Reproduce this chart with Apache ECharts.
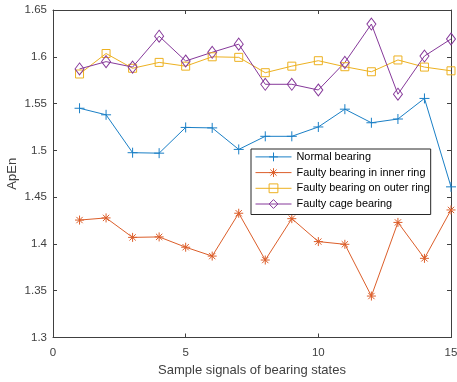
<!DOCTYPE html>
<html><head><meta charset="utf-8">
<script src="https://cdn.jsdelivr.net/npm/echarts@6/dist/echarts.min.js"></script>
<style>html,body{margin:0;padding:0;background:#fff}#c{width:457px;height:382px}</style>
</head><body><div id="c"></div>
<script>
var samples = [1,2,3,4,5,6,7,8,9,10,11,12,13,14,15];
var normalBearing = [1.545,1.538,1.4975,1.497,1.5245,1.524,1.501,1.515,1.515,1.525,1.544,1.5295,1.5335,1.5555,1.461];
var innerRing = [1.4255,1.4278,1.407,1.4075,1.3965,1.387,1.4328,1.3828,1.427,1.4025,1.3996,1.3443,1.423,1.3846,1.4363];
var outerRing = [1.5816,1.6035,1.5877,1.594,1.590,1.600,1.5994,1.583,1.590,1.5958,1.5894,1.584,1.5966,1.589,1.585];
var cageBearing = [1.587,1.5948,1.589,1.622,1.5955,1.6048,1.6135,1.5706,1.5706,1.5645,1.594,1.635,1.560,1.6008,1.619];
var seriesNames = ['Normal bearing','Faulty bearing in inner ring','Faulty bearing on outer ring','Faulty cage bearing'];
var xTicks = [0,5,10,15];
var yTicks = [1.3,1.35,1.4,1.45,1.5,1.55,1.6,1.65];

var colors = ['#1a7fc6','#dc5e2a','#EDB120','#86399a'];
var FONT = '"Liberation Sans", Arial, Helvetica, sans-serif';
var axisCol = '#404040';
function pairs(arr){ return samples.map(function(x,i){ return [x, arr[i]]; }); }
var plusSym = 'path://M5,0L5,10M0,5L10,5';
var starSym = 'path://M5,0L5,10M0,5L10,5M1.5,1.5L8.5,8.5M1.5,8.5L8.5,1.5';

function mkSeries(name, data, color, sym, size, fill){
  return {
    name: name, type: 'line', data: pairs(data),
    symbol: sym, symbolSize: size, showAllSymbol: true,
    lineStyle: {color: color, width: 1},
    itemStyle: {color: fill, borderColor: color, borderWidth: 1},
    emphasis: {disabled: true}, animation: false, z: 3
  };
}

var chart = echarts.init(document.getElementById('c'), null, {renderer: 'canvas'});
var axisCommon = {
  type: 'value', min: 0, max: 15, interval: 5,
  axisLine: {show: true, onZero: false, lineStyle: {color: axisCol, width: 1}},
  axisTick: {show: true, inside: true, length: 4, lineStyle: {color: axisCol}},
  splitLine: {show: false}
};
chart.setOption({
  animation: false,
  backgroundColor: '#fff',
  grid: {left: 53, right: 6, top: 10, bottom: 44.5, containLabel: false, outerBoundsMode: 'none'},
  xAxis: [
    Object.assign({}, axisCommon, {
      position: 'bottom',
      axisLabel: {color: axisCol, fontFamily: FONT, fontSize: 11.5, margin: 9,
        formatter: function(v){ return xTicks.indexOf(v) >= 0 ? String(v) : ''; }},
      name: 'Sample signals of bearing states', nameLocation: 'middle', nameGap: 26,
      nameMoveOverlap: false,
      nameTextStyle: {color: axisCol, fontFamily: FONT, fontSize: 13}
    }),
    Object.assign({}, axisCommon, {position: 'top', axisLabel: {show: false}})
  ],
  yAxis: [
    {
      type: 'value', min: 1.3, max: 1.65, interval: 0.05, position: 'left',
      axisLine: {show: true, onZero: false, lineStyle: {color: axisCol, width: 1}},
      axisTick: {show: true, inside: true, length: 4, lineStyle: {color: axisCol}},
      splitLine: {show: false},
      axisLabel: {color: axisCol, fontFamily: FONT, fontSize: 11.5, margin: 6,
        formatter: function(v){ return String(+v.toFixed(2)); }},
      name: 'ApEn', nameLocation: 'middle', nameGap: 34, nameRotate: 90,
      nameMoveOverlap: false,
      nameTextStyle: {color: axisCol, fontFamily: FONT, fontSize: 13}
    },
    {
      type: 'value', min: 1.3, max: 1.65, interval: 0.05, position: 'right',
      axisLine: {show: true, onZero: false, lineStyle: {color: axisCol, width: 1}},
      axisTick: {show: true, inside: true, length: 4, lineStyle: {color: axisCol}},
      splitLine: {show: false}, axisLabel: {show: false}
    }
  ],
  legend: {
    orient: 'vertical', left: 251, top: 149,
    padding: [1, 1, 3.6, 4],
    backgroundColor: '#fff', borderColor: '#262626', borderWidth: 1,
    itemWidth: 36, itemHeight: 11, itemGap: 1.9,
    itemStyle: {color: 'none', borderWidth: 1},
    lineStyle: {width: 1},
    textStyle: {color: '#000', fontFamily: FONT, fontSize: 10.9, lineHeight: 11},
    data: seriesNames,
    selectedMode: false
  },
  series: [
    mkSeries(seriesNames[0], normalBearing, colors[0], plusSym, 10, 'none'),
    mkSeries(seriesNames[1], innerRing, colors[1], starSym, 9, 'none'),
    mkSeries(seriesNames[2], outerRing, colors[2], 'rect', 8, 'none'),
    mkSeries(seriesNames[3], cageBearing, colors[3], 'diamond', [9,12], 'none')
  ]
});
</script></body></html>
